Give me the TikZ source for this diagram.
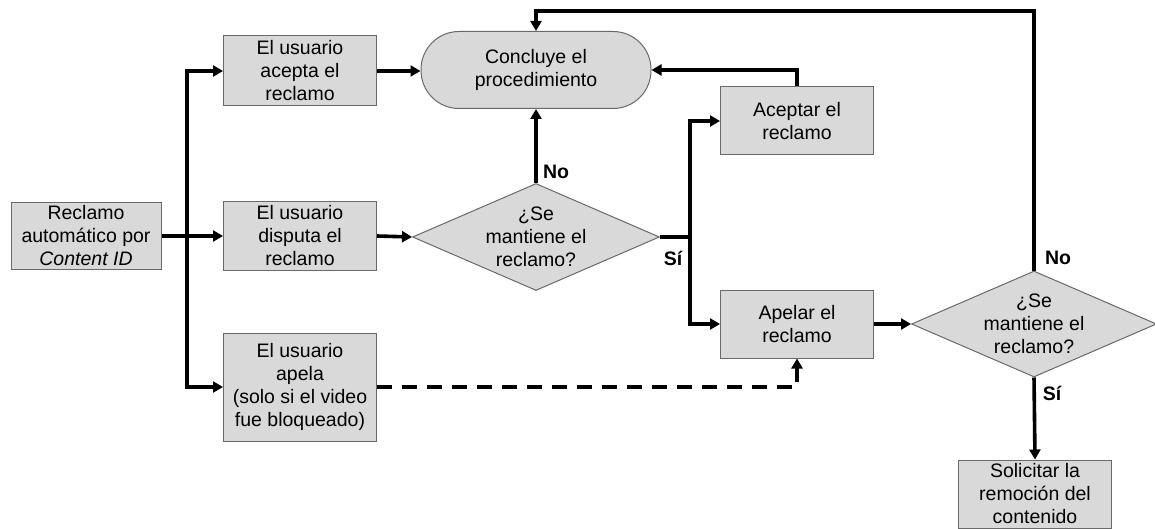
\documentclass[tikz,border=0pt]{standalone}
\usepackage{fontspec}
\setmainfont{Liberation Sans}
\usetikzlibrary{shapes.geometric,arrows.meta}
\definecolor{cajagris}{RGB}{217,217,217}
\definecolor{bordegris}{RGB}{105,105,105}
\tikzset{
	paso/.style={draw=bordegris,fill=cajagris,line width=1pt,minimum width=153pt,minimum height=68pt,align=center,inner sep=2pt,font=\fontsize{19.5}{23}\selectfont},
	decision/.style={draw=bordegris,fill=cajagris,line width=1pt,diamond,minimum width=247pt,minimum height=107pt,inner sep=0pt},
	texto/.style={align=center,font=\fontsize{19.5}{23}\selectfont},
	etiqueta/.style={font=\bfseries\fontsize{19.5}{23}\selectfont},
	flecha/.style={line width=3.6pt,-{Triangle[length=10pt,width=11pt]}},
	punteada/.style={flecha,dash pattern=on 15pt off 10pt}
}
\begin{document}
\begin{tikzpicture}[x=1pt,y=-1pt]
			\useasboundingbox (0,0) rectangle (1155,529);
			\node[paso,minimum width=150pt,minimum height=67pt] (reclamo) at (86,236) {Reclamo\\automático por\\\textit{Content ID}};
			\node[paso,minimum height=70pt] (acepta) at (300,71) {El usuario\\acepta el\\reclamo};
			\node[paso] (disputa) at (300,236) {El usuario\\disputa el\\reclamo};
			\node[paso,minimum height=108pt] (apela) at (300,387) {El usuario\\apela\\(solo si el video\\fue bloqueado)};
			\node[paso,minimum width=230pt,minimum height=77pt,rounded corners=38pt] (concluye) at (536,70) {Concluye el\\procedimiento};
			\node[decision] (mant1) at (536,237) {};
			\node[texto] (mant1txt) at (mant1) {¿Se\\mantiene el\\reclamo?};
			\node[paso] (aceptar) at (797,121) {Aceptar el\\reclamo};
			\node[paso] (apelar) at (797,324) {Apelar el\\reclamo};
			\node[decision,minimum width=245pt,minimum height=106pt] (mant2) at (1034,324) {};
			\node[texto] (mant2txt) at (mant2) {¿Se\\mantiene el\\reclamo?};
			\node[paso] (solicitar) at (1035,494) {Solicitar la\\remoción del\\contenido};
			\coordinate (rama) at (187,237);
			\coordinate (rama2) at (690,237);
			\coordinate (arriba) at (536,11);
			\draw[flecha] (reclamo.east) -- (disputa.west);
			\draw[flecha] (rama) |- (acepta.west);
			\draw[flecha] (rama) |- (apela.west);
			\draw[flecha] (acepta.east) -- (acepta.east -| concluye.west);
			\draw[flecha] (disputa.east) -- (mant1.west);
			\draw[flecha] (mant1.north) -- (concluye.south);
			\draw[line width=3.6pt] (mant1.east) -- (rama2);
			\draw[flecha] (rama2) |- (aceptar.west);
			\draw[flecha] (rama2) |- (apelar.west);
			\draw[flecha] (aceptar.north) |- (concluye.east);
			\draw[flecha] (apelar.east) -- (mant2.west);
			\draw[flecha] (mant2.north) |- (arriba) -- (concluye.north);
			\draw[flecha] (mant2.south) -- (solicitar.north);
			\draw[punteada] (apela.east) -| (apelar.south);
			\node[etiqueta] (no1) at (556,172) {No};
			\node[etiqueta] (si1) at (673,258) {Sí};
			\node[etiqueta] (no2) at (1058,258) {No};
			\node[etiqueta] (si2) at (1052,393) {Sí};
\end{tikzpicture}
\end{document}
